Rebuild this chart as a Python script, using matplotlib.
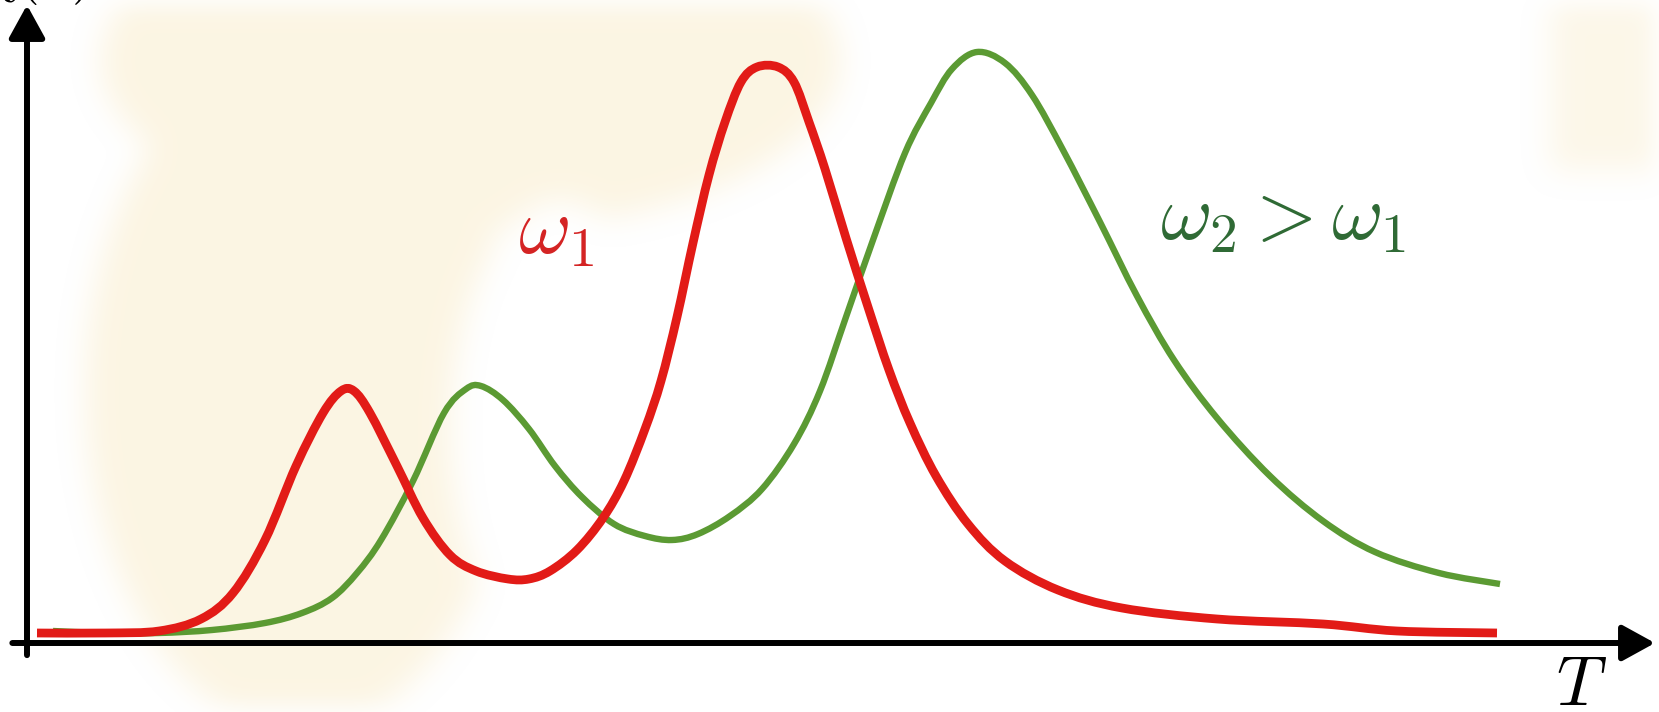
import matplotlib
matplotlib.use("Agg")
import matplotlib.pyplot as plt
import numpy as np
from matplotlib.colors import to_rgb
from matplotlib.patches import PathPatch
from matplotlib.path import Path

plt.rcParams["mathtext.fontset"] = "cm"

# susceptibility peaks vs temperature, low frequency (omega_1)
T_w1 = [0.10, 0.79, 1.32, 1.74, 2.06, 2.38, 2.69, 2.96, 3.14, 3.27, 3.43, 3.70,
        3.96, 4.23, 4.49, 4.81, 5.02, 5.23, 5.50, 5.76, 5.97, 6.18, 6.34, 6.50,
        6.66, 6.82, 6.98, 7.14, 7.30, 7.51, 7.67, 7.82, 7.98, 8.19, 8.41, 8.62,
        8.83, 9.09, 9.41, 9.78, 10.31, 10.95, 11.90, 12.96, 13.70, 14.70]
chi_w1 = [0.10, 0.10, 0.12, 0.24, 0.50, 1.03, 1.77, 2.30, 2.52, 2.52, 2.30, 1.77,
          1.25, 0.88, 0.72, 0.64, 0.64, 0.72, 0.93, 1.25, 1.62, 2.14, 2.62, 3.26,
          4.00, 4.68, 5.21, 5.61, 5.76, 5.76, 5.61, 5.21, 4.74, 4.05, 3.36, 2.73,
          2.20, 1.67, 1.19, 0.82, 0.53, 0.35, 0.24, 0.19, 0.12, 0.10]

# higher frequency (omega_2 > omega_1): peaks shift to higher T
T_w2 = [0.26, 0.79, 1.32, 1.85, 2.38, 2.75, 3.05, 3.30, 3.54, 3.86, 4.17, 4.39,
        4.54, 4.76, 5.02, 5.28, 5.55, 5.87, 6.18, 6.45, 6.71, 7.03, 7.35, 7.67,
        7.93, 8.19, 8.46, 8.78, 9.04, 9.25, 9.50, 9.78, 10.05, 10.36, 10.73, 11.10,
        11.47, 11.90, 12.43, 12.96, 13.48, 14.12, 14.73]
chi_w2 = [0.12, 0.10, 0.10, 0.13, 0.20, 0.30, 0.45, 0.70, 1.03, 1.62, 2.30, 2.54,
          2.57, 2.43, 2.14, 1.77, 1.46, 1.19, 1.07, 1.03, 1.09, 1.27, 1.54, 1.99,
          2.52, 3.26, 4.03, 4.90, 5.40, 5.74, 5.91, 5.80, 5.48, 4.93, 4.21, 3.47,
          2.83, 2.25, 1.67, 1.22, 0.91, 0.70, 0.59]


def smooth_path(xs, ys):
    # cubic Bezier segments through every point (Catmull-Rom tangents)
    p = np.column_stack([xs, ys])
    n = len(p)
    verts = [p[0]]
    codes = [Path.MOVETO]
    for i in range(n - 1):
        p0 = p[max(i - 1, 0)]
        p1 = p[i]
        p2 = p[i + 1]
        p3 = p[min(i + 2, n - 1)]
        verts += [p1 + (p2 - p0) / 6, p2 - (p3 - p1) / 6, p2]
        codes += [Path.CURVE4] * 3
    return Path(verts, codes)


def box_blur(a, r, passes=3):
    k = np.ones(2 * r + 1) / (2 * r + 1)
    for _ in range(passes):
        a = np.apply_along_axis(lambda m: np.convolve(m, k, mode="same"), 0, a)
        a = np.apply_along_axis(lambda m: np.convolve(m, k, mode="same"), 1, a)
    return a


W, H = 1659, 712
fig = plt.figure(figsize=(W / 100, H / 100), dpi=100)
fig.patch.set_facecolor("white")

# soft beige watermark behind the plot
yy, xx = np.mgrid[0:H, 0:W]
def ellipse(cx, cy, a, b):
    return ((xx - cx) / a) ** 2 + ((yy - cy) / b) ** 2 <= 1
mask = (ellipse(300, 390, 215, 340) | ellipse(470, 60, 370, 170)).astype(float)
mask[ellipse(560, 430, 110, 230)] = 0.0
mask[(xx > 1550) & (yy < 170)] = 0.8
mask = box_blur(mask, 14)
wm = np.zeros((H, W, 4))
wm[..., :3] = to_rgb("#f6e2ad")
wm[..., 3] = 0.34 * mask
bg = fig.add_axes([0, 0, 1, 1], zorder=0)
bg.imshow(wm, extent=(0, W, H, 0), interpolation="bilinear")
bg.set_xlim(0, W)
bg.set_ylim(H, 0)
bg.axis("off")

ax = fig.add_axes([27 / W, (H - 643) / H, (1655 - 27) / W, (643 - 5) / H], zorder=1)
ax.patch.set_alpha(0)
ax.set_xlim(0, 16.28)
ax.set_ylim(0, 6.38)
for s in ax.spines.values():
    s.set_visible(False)
ax.set_xticks([])
ax.set_yticks([])

ax.add_patch(PathPatch(smooth_path(T_w2, chi_w2), fill=False, edgecolor="#5b9a33",
                       lw=4.6, capstyle="butt", joinstyle="round"))
ax.add_patch(PathPatch(smooth_path(T_w1, chi_w1), fill=False, edgecolor="#e21b17",
                       lw=6.3, capstyle="butt", joinstyle="round"))

# axes arrows
arrow = dict(arrowstyle="-|>,head_length=1.0,head_width=0.55", color="black",
             lw=4.3, shrinkA=0, shrinkB=0, mutation_scale=20)
ax.annotate("", xy=(1.0, 0), xytext=(-0.009, 0), xycoords="axes fraction",
            arrowprops=arrow, annotation_clip=False)
ax.annotate("", xy=(0, 1.0), xytext=(0, -0.019), xycoords="axes fraction",
            arrowprops=arrow, annotation_clip=False)

ax.text(15.54, -0.62, r"$T$", fontsize=50, ha="center", va="baseline")
ax.text(5.29, 3.90, r"$\omega_1$", fontsize=58, color="#d42424",
        ha="center", va="baseline")
ax.text(12.56, 4.03, r"$\omega_2 > \omega_1$", fontsize=57, color="#2f6a35",
        ha="center", va="baseline")

fig.text(90 / W, 1 + 9 / H, r"$\chi(T)$", fontsize=40, ha="right", va="baseline")

fig.savefig("out.png", dpi=100)
